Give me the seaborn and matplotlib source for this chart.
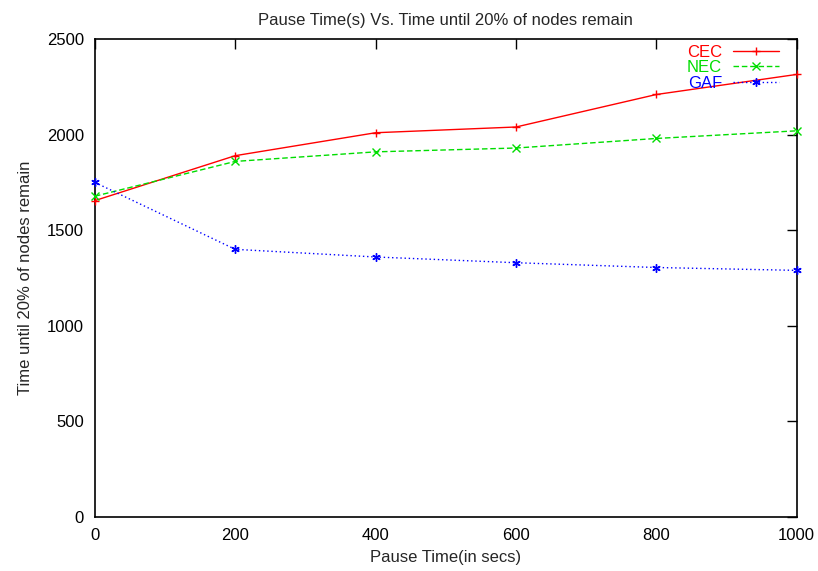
import numpy as np
import pandas as pd
import matplotlib
matplotlib.use('Agg')
import matplotlib.pyplot as plt
import seaborn as sns

# data
pause_time = [0, 200, 400, 600, 800, 1000]
cec = [1655, 1890, 2010, 2040, 2210, 2315]
nec = [1678, 1860, 1910, 1930, 1980, 2020]
gaf = [1750, 1400, 1360, 1330, 1305, 1290]

series_names = ['CEC', 'NEC', 'GAF']
series_colors = ['#ff0000', '#00dd00', '#0000ff']
series_markers = ['+', 'x', (6, 2, 0)]
series_dashes = [None, (4, 2), (1, 2)]

df = pd.DataFrame({'pause': pause_time * 3,
                   'time': cec + nec + gaf,
                   'series': np.repeat(series_names, len(pause_time))})

sns.set_style('white')
plt.rcParams['font.family'] = ['Liberation Sans', 'DejaVu Sans']

fig = plt.figure(figsize=(8.18, 5.71), dpi=100)
ax = fig.add_axes([0.116, 0.0946, 0.858, 0.837])

for name, color, marker, dash in zip(series_names, series_colors, series_markers, series_dashes):
    sub = df[df['series'] == name]
    line, = ax.plot(sub['pause'], sub['time'], color=color, marker=marker,
                    markersize=6, markeredgewidth=1, linewidth=1, label=name,
                    clip_on=False, zorder=3)
    if dash is not None:
        line.set_dashes(dash)

ax.set_xlim(0, 1000)
ax.set_ylim(0, 2500)
ax.set_xticks(pause_time)
ax.set_yticks(np.arange(0, 2501, 500))
ax.tick_params(direction='in', top=True, right=True, length=7, width=1,
               labelsize=12, colors='black', pad=8)
for s in ax.spines.values():
    s.set_color('black')
    s.set_linewidth(1.2)

ax.set_title('Pause Time(s) Vs. Time until 20% of nodes remain', fontsize=12, pad=10)
ax.set_xlabel('Pause Time(in secs)', fontsize=12, labelpad=5)
ax.set_ylabel('Time until 20% of nodes remain', fontsize=12, labelpad=10)

leg = ax.legend(loc='upper right', bbox_to_anchor=(0.979, 0.995), markerfirst=False,
                frameon=False, fontsize=12, labelcolor='linecolor', handlelength=2.75,
                borderaxespad=0, labelspacing=0.03, handletextpad=0.65, borderpad=0.2)

fig.savefig('out.png', dpi=100)
